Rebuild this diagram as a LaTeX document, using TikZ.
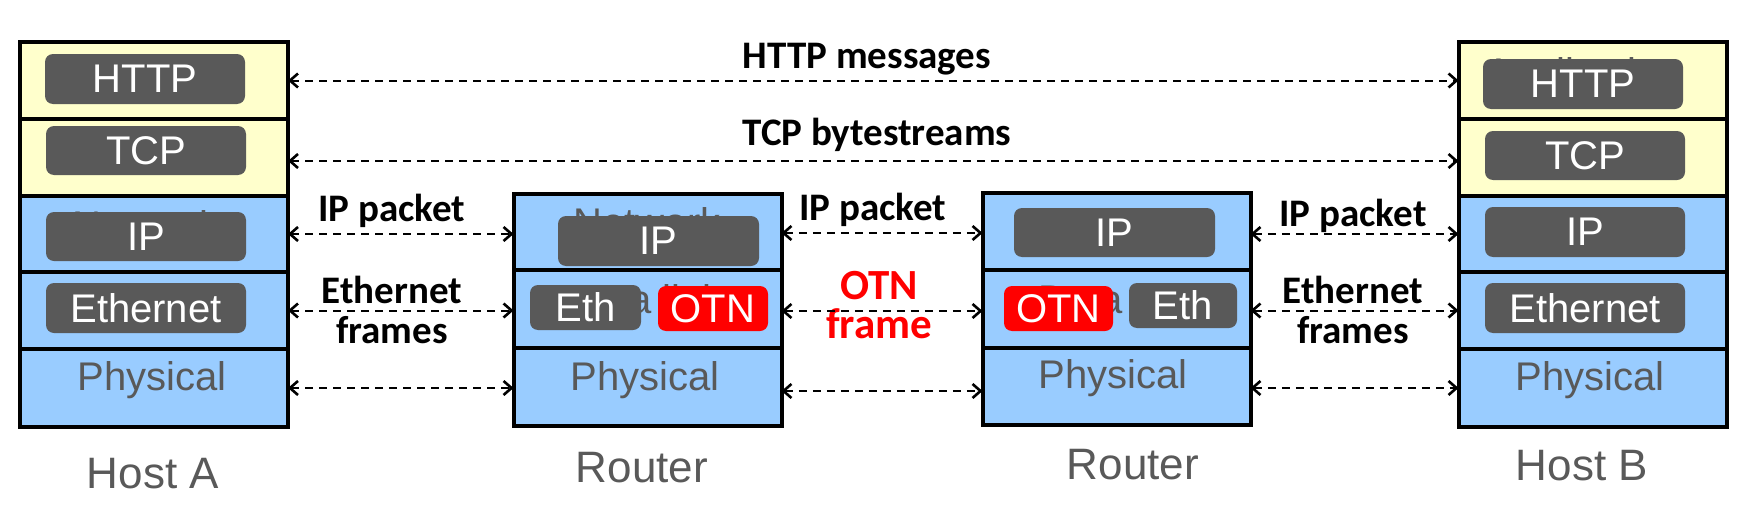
\documentclass[tikz,border=0pt]{standalone}
\usepackage{fontspec}
\setmainfont{Liberation Sans}
\newfontfamily\lblfont{Carlito}
\usetikzlibrary{arrows.meta}
\definecolor{appY}{HTML}{FFFFCC}
\definecolor{netB}{HTML}{99CCFF}
\definecolor{boxG}{HTML}{595959}
\definecolor{txtG}{HTML}{595959}
\definecolor{otnR}{HTML}{FF0000}
\begin{document}
\begin{tikzpicture}[x=1pt,y=-1pt,
  layerbox/.style={draw=black, line width=4pt, minimum width=268pt, inner sep=0pt, outer sep=0pt},
  applayer/.style={layerbox, fill=appY},
  netlayer/.style={layerbox, fill=netB},
  hiddentxt/.style={text=txtG, font=\fontsize{40}{40}\selectfont, anchor=base, inner sep=0pt},
  gbox/.style={fill=boxG, rounded corners=8pt, text=white, font=\fontsize{40}{40}\selectfont, inner sep=0pt, minimum height=50pt},
  rbox/.style={gbox, fill=otnR, minimum height=45pt},
  phytxt/.style={text=txtG, font=\fontsize{40}{40}\selectfont, anchor=base, inner sep=0pt},
  devtxt/.style={text=txtG, font=\fontsize{44}{44}\selectfont, anchor=base, inner sep=0pt},
  lbl/.style={font=\lblfont\bfseries\fontsize{39}{40}\selectfont, text=black, inner sep=0pt},
  dar/.style={{Straight Barb[length=8pt,width=14pt,line width=2.6pt]}-{Straight Barb[length=8pt,width=14pt,line width=2.6pt]}, dash pattern=on 8pt off 6pt, line width=2pt, black}
]
\useasboundingbox (0,0) rectangle (1757,514);

% ---- Host A layers
\node[applayer, minimum height=77pt] (aApp) at (154,80.5) {};
\node[applayer, minimum height=77pt] (aTr) at (154,157.5) {};
\node[netlayer, minimum height=76pt] (aNet) at (154,234) {};
\node[netlayer, minimum height=77pt] (aLink) at (154,310.5) {};
\node[netlayer, minimum height=78pt] (aPhy) at (154,388) {};
% ---- Router 1 layers
\node[netlayer, minimum height=76pt] (r1Net) at (647.5,232) {};
\node[netlayer, minimum height=78pt] (r1Link) at (647.5,309) {};
\node[netlayer, minimum height=78pt] (r1Phy) at (647.5,387) {};
% ---- Router 2 layers
\node[netlayer, minimum height=77pt] (r2Net) at (1116.5,231.5) {};
\node[netlayer, minimum height=78pt] (r2Link) at (1116.5,309) {};
\node[netlayer, minimum height=77pt] (r2Phy) at (1116.5,386.5) {};
% ---- Host B layers
\node[applayer, minimum height=77pt] (bApp) at (1592.5,80.5) {};
\node[applayer, minimum height=77pt] (bTr) at (1592.5,157.5) {};
\node[netlayer, minimum height=76pt] (bNet) at (1592.5,234) {};
\node[netlayer, minimum height=77pt] (bLink) at (1592.5,310.5) {};
\node[netlayer, minimum height=78pt] (bPhy) at (1592.5,388) {};

% ---- layer names, mostly covered by the protocol boxes (as in the reference)
\node[hiddentxt] (aAppName) at (145,88) {Application};
\node[hiddentxt] (aNetName) at (146,239) {Network};
\node[hiddentxt] (r1NetName) at (647,236) {Network};
\node[hiddentxt] (r1LinkName) at (645,313) {Data link};
\node[hiddentxt] (r2LinkName) at (1116,313) {Data link};
\node[hiddentxt] (bAppName) at (1583,86) {Application};

% ---- gray protocol boxes
\node[gbox, minimum width=200pt] (aHttp) at (145,79) {HTTP};
\node[gbox, minimum width=200pt, minimum height=49pt] (aTcp) at (146,150.5) {TCP};
\node[gbox, minimum width=200pt, minimum height=49pt] (aIp) at (146,236.5) {IP};
\node[gbox, minimum width=200pt] (aEth) at (146,308) {Ethernet};

\node[gbox, minimum width=201pt] (r1Ip) at (658.5,241) {IP};
\node[gbox, minimum width=111pt, minimum height=45pt] (r1Eth) at (585.5,307.5) {Eth};
\node[rbox, minimum width=110pt] (r1Otn) at (713,308.5) {OTN};

\node[gbox, minimum width=201pt, minimum height=49pt] (r2Ip) at (1114.5,232.5) {IP};
\node[rbox, minimum width=109pt] (r2Otn) at (1058.5,308.5) {OTN};
\node[gbox, minimum width=108pt, minimum height=45pt] (r2Eth) at (1183,305.5) {Eth};

\node[gbox, minimum width=200pt] (bHttp) at (1583,84) {HTTP};
\node[gbox, minimum width=200pt, minimum height=49pt] (bTcp) at (1585,155.5) {TCP};
\node[gbox, minimum width=200pt] (bIp) at (1585,232) {IP};
\node[gbox, minimum width=200pt] (bEth) at (1585,308) {Ethernet};

% ---- physical texts
\node[phytxt] (aPhyTxt) at (152,390) {Physical};
\node[phytxt] (r1PhyTxt) at (645,390) {Physical};
\node[phytxt] (r2PhyTxt) at (1113,388) {Physical};
\node[phytxt] (bPhyTxt) at (1590,390) {Physical};

% ---- device names
\node[devtxt] (hostA) at (153,488) {Host A};
\node[devtxt] (router1) at (642,482) {Router};
\node[devtxt] (router2) at (1133,479) {Router};
\node[devtxt] (hostB) at (1582,480) {Host B};

% ---- connector labels
\node[lbl, anchor=base] (httpLbl) at (867,68) {HTTP messages};
\node[lbl, anchor=base] (tcpLbl) at (877,145) {TCP bytestreams};
\node[lbl, anchor=base] (ipLblA) at (392,221) {IP packet};
\node[lbl, anchor=base] (ipLblR) at (873,220) {IP packet};
\node[lbl, anchor=base] (ipLblB) at (1353,226) {IP packet};
\node[lbl, align=center] (ethLblA) at (392,310) {Ethernet\\frames};
\node[lbl, align=center] (ethLblB) at (1353,310) {Ethernet\\frames};
\node[lbl, align=center, text=otnR, font=\lblfont\bfseries\fontsize{43}{39}\selectfont] (otnLbl) at (879,305) {OTN\\frame};

% ---- connectors
\draw[dar] (aApp.east) -- (bApp.west);
\draw[dar] ([yshift=-3.5pt]aTr.east) -- ([yshift=-3.5pt]bTr.west);
\draw[dar] (aNet.east) -- (aNet.east -| r1Net.west);
\draw[dar] (aLink.east) -- (aLink.east -| r1Link.west);
\draw[dar] (aPhy.east) -- (aPhy.east -| r1Phy.west);
\draw[dar] ([yshift=-1pt]r1Net.east) -- ([yshift=-1pt]r1Net.east -| r2Net.west);
\draw[dar] ([yshift=-2pt]r1Link.east) -- ([yshift=-2pt]r1Link.east -| r2Link.west);
\draw[dar] ([yshift=-4pt]r1Phy.east) -- ([yshift=-4pt]r1Phy.east -| r2Phy.west);
\draw[dar] (bNet.west -| r2Net.east) -- (bNet.west);
\draw[dar] (bLink.west -| r2Link.east) -- (bLink.west);
\draw[dar] (bPhy.west -| r2Phy.east) -- (bPhy.west);
\end{tikzpicture}
\end{document}
